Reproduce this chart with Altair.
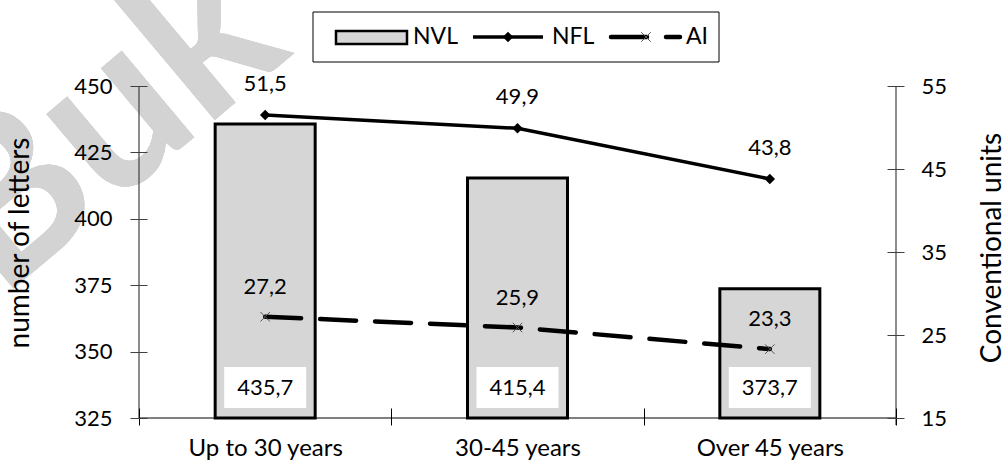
import altair as alt
import pandas as pd

# Age groups and the three indicators
categories = ["Up to 30 years", "30-45 years", "Over 45 years"]
nvl = [435.7, 415.4, 373.7]   # number of letters (left axis)
nfl = [51.5, 49.9, 43.8]      # conventional units (right axis)
ai = [27.2, 25.9, 23.3]       # conventional units (right axis)

left_ticks = [325, 350, 375, 400, 425, 450]
right_ticks = [15, 25, 35, 45, 55]

df = pd.DataFrame({"group": categories, "nvl": nvl, "nfl": nfl, "ai": ai})

FONT = "Lato"
FS = 22
W, H = 757, 332
BAR_FILL = "#d6d6d6"
AXIS_GREY = "#404040"

fmt = "replace(format(datum.{f}, '.1f'), '.', ',')"

x_enc = alt.X(
    "group:N",
    sort=categories,
    scale=alt.Scale(paddingInner=0, paddingOuter=0),
    axis=alt.Axis(
        title=None, domain=False, tickBand="extent", offset=-10, tickSize=17,
        tickColor="black", labelPadding=11, labelFontSize=24, labelFont=FONT,
        labelColor="black", labelAngle=0, zindex=1,
    ),
)

left_scale = alt.Scale(domain=[325, 450], nice=False, zero=False)
right_scale = alt.Scale(domain=[15, 55], nice=False, zero=False)

left_axis = alt.Axis(
    title=None, values=left_ticks, domain=False, offset=-8, tickSize=17,
    tickColor=AXIS_GREY, labelPadding=18, labelFontSize=FS, labelFont=FONT,
    labelColor="black", zindex=1,
)
right_axis = alt.Axis(
    title=None, values=right_ticks, domain=False, offset=-9, tickSize=17,
    tickColor=AXIS_GREY, labelPadding=17, labelFontSize=FS, labelFont=FONT,
    labelColor="black", orient="right", zindex=1,
)

base = alt.Chart(df).transform_calculate(
    nvl_lbl=fmt.format(f="nvl"),
    nfl_lbl=fmt.format(f="nfl"),
    ai_lbl=fmt.format(f="ai"),
)

# ---- background watermark
watermark = alt.Chart(df).mark_text(
    text="Buk", font=FONT, fontSize=220, fontWeight="bold", color="#d3d3d3",
    angle=320, align="left", baseline="alphabetic",
).encode(x=alt.value(-139), y=alt.value(214))

# ---- NVL bars (left axis)
bars = base.mark_bar(width=100, fill=BAR_FILL, stroke="black", strokeWidth=3).encode(
    x=x_enc,
    y=alt.Y("nvl:Q", scale=left_scale, axis=left_axis),
    y2=alt.datum(325),
)
label_boxes = base.mark_bar(width=82, color="white").encode(
    x=alt.X("group:N", sort=categories),
    y=alt.value(281), y2=alt.value(322),
)
bar_labels = base.mark_text(font=FONT, fontSize=FS, color="black").encode(
    x=alt.X("group:N", sort=categories),
    y=alt.value(302),
    text="nvl_lbl:N",
)
left_group = alt.layer(bars, label_boxes, bar_labels)

# ---- NFL and AI lines (right axis)
y_nfl = alt.Y("nfl:Q", scale=right_scale, axis=right_axis)
y_ai = alt.Y("ai:Q", scale=right_scale, axis=right_axis)
xg = alt.X("group:N", sort=categories)

nfl_line = base.mark_line(
    color="black", strokeWidth=3.5,
    point=alt.OverlayMarkDef(shape="diamond", size=110, filled=True, color="black"),
).encode(x=xg, y=y_nfl)
nfl_labels = base.mark_text(font=FONT, fontSize=FS, color="black", dy=-31).encode(
    x=xg, y=y_nfl, text="nfl_lbl:N"
)
ai_line = base.mark_line(
    color="black", strokeWidth=4.5, strokeDash=[36, 19], strokeCap="round",
    point=alt.OverlayMarkDef(
        shape="M-1,-1L1,1M-1,1L1,-1", size=90, filled=False, color="#555555",
        strokeWidth=1,
    ),
).encode(x=xg, y=y_ai)
ai_labels = base.mark_text(font=FONT, fontSize=FS, color="black", dy=-30).encode(
    x=xg, y=y_ai, text="ai_lbl:N"
)
right_group = alt.layer(nfl_line, nfl_labels, ai_line, ai_labels)

# ---- axis lines
one = pd.DataFrame({"k": [0]})
left_line = alt.Chart(one).mark_rule(color=AXIS_GREY, strokeWidth=1.2).encode(
    x=alt.value(0), y=alt.value(0), y2=alt.value(H)
)
right_line = alt.Chart(one).mark_rule(color=AXIS_GREY, strokeWidth=1.2).encode(
    x=alt.value(W), y=alt.value(0), y2=alt.value(H + 7)
)
bottom_line = alt.Chart(one).mark_rule(color="black", strokeWidth=1.2).encode(
    x=alt.value(0), x2=alt.value(W), y=alt.value(H)
)

# ---- axis titles
TITLE_FS = 28
left_title = alt.Chart(one).mark_text(
    text="number of letters", font=FONT, fontSize=TITLE_FS, angle=270, color="black",
    align="center", baseline="middle",
).encode(x=alt.value(-118), y=alt.value(157))
right_title = alt.Chart(one).mark_text(
    text="Conventional units", font=FONT, fontSize=TITLE_FS, angle=270, color="black",
    align="center", baseline="middle",
).encode(x=alt.value(854), y=alt.value(162))

# ---- legend box
legend_box = alt.Chart(one).mark_rect(fill="white", stroke="black", strokeWidth=1).encode(
    x=alt.value(174), x2=alt.value(580), y=alt.value(-74), y2=alt.value(-24)
)
leg_nvl = alt.Chart(one).mark_rect(fill=BAR_FILL, stroke="black", strokeWidth=2.5).encode(
    x=alt.value(197), x2=alt.value(268), y=alt.value(-55), y2=alt.value(-42)
)
leg_nfl = alt.Chart(one).mark_rule(color="black", strokeWidth=3.5).encode(
    x=alt.value(334), x2=alt.value(404), y=alt.value(-49)
)
leg_nfl_pt = alt.Chart(one).mark_point(
    shape="diamond", size=110, filled=True, color="black", opacity=1
).encode(x=alt.value(369), y=alt.value(-49))
leg_ai = alt.Chart(one).mark_rule(
    color="black", strokeWidth=4.5, strokeDash=[36, 19], strokeCap="round"
).encode(x=alt.value(472), x2=alt.value(541), y=alt.value(-49))
leg_ai_pt = alt.Chart(one).mark_point(
    shape="M-1,-1L1,1M-1,1L1,-1", size=90, filled=False, color="#555555",
    strokeWidth=1, opacity=1,
).encode(x=alt.value(507), y=alt.value(-49))


def leg_text(label, xpos):
    return alt.Chart(one).mark_text(
        text=label, font=FONT, fontSize=23, color="black", align="left",
        baseline="middle",
    ).encode(x=alt.value(xpos), y=alt.value(-49))


chart = alt.layer(
    watermark,
    left_group,
    right_group,
    left_line, right_line, bottom_line,
    left_title, right_title,
    legend_box, leg_nvl, leg_nfl, leg_nfl_pt, leg_ai, leg_ai_pt,
    leg_text("NVL", 274), leg_text("NFL", 413), leg_text("AI", 547),
).resolve_scale(y="independent").properties(
    width=W,
    height=H,
    autosize=alt.AutoSizeParams(type="none"),
    padding={"left": 139, "top": 86, "right": 107, "bottom": 46},
).configure_view(stroke=None).configure_axis(grid=False)

chart.save("out.html", embed_options={"renderer": "svg", "actions": False})
